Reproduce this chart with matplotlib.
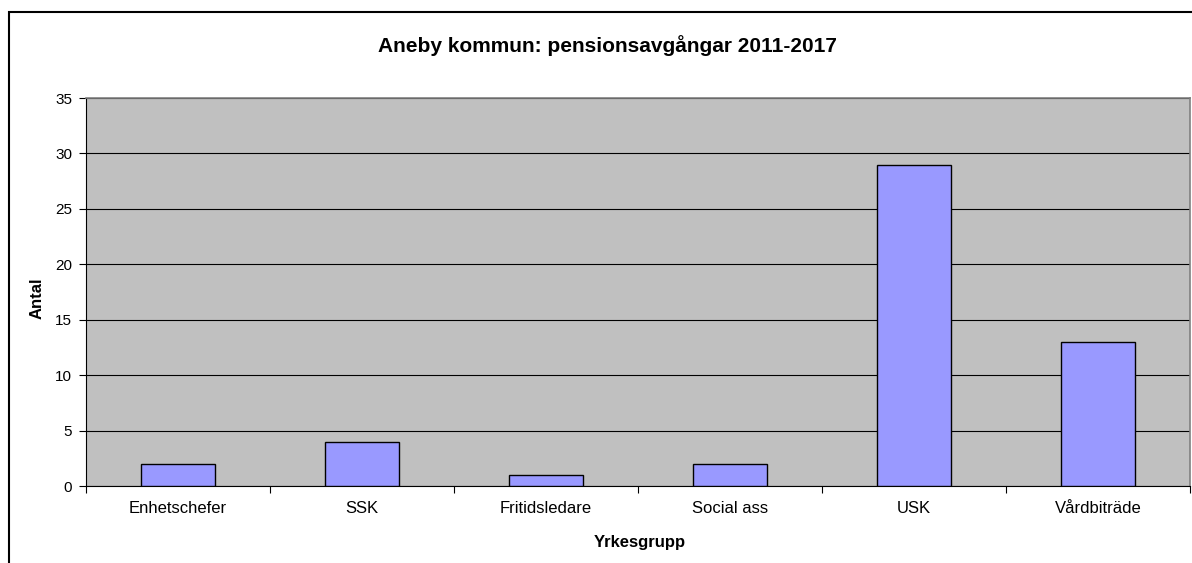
import matplotlib
matplotlib.use("Agg")
import matplotlib.pyplot as plt
from matplotlib.patches import Rectangle
import numpy as np

# ── data
categories = ["Enhetschefer", "SSK", "Fritidsledare", "Social ass", "USK", "Vårdbiträde"]
antal = [2, 4, 1, 2, 29, 13]
yticks = [0, 5, 10, 15, 20, 25, 30, 35]

plt.rcParams['font.family'] = ['Liberation Sans', 'DejaVu Sans']

W, H = 1192, 563
fig = plt.figure(figsize=(W / 100, H / 100), dpi=100)
fig.patch.set_facecolor("white")

# plot area in pixel terms
left, right, top, bottom = 86, 1190, 98, 486
ax = fig.add_axes([left / W, 1 - bottom / H, (right - left) / W, (bottom - top) / H])
ax.set_facecolor("#C0C0C0")

x = np.arange(len(categories))
ax.bar(x, antal, width=0.4, color="#9999FF", edgecolor="black", linewidth=1.0, zorder=3)

ax.set_xlim(-0.5, len(categories) - 0.5)
ax.set_ylim(0, 35)
ax.set_yticks(yticks)
ax.set_yticklabels([str(t) for t in yticks], fontsize=11)
ax.yaxis.grid(True, color="black", linewidth=0.8, zorder=1)
ax.set_axisbelow(True)

# category labels centred, ticks at category boundaries
ax.set_xticks(x)
ax.set_xticklabels(categories, fontsize=12)
ax.tick_params(axis="x", which="major", length=0, pad=11)
ax.set_xticks(np.arange(-0.5, len(categories)), minor=True)
ax.tick_params(axis="x", which="minor", length=5, width=0.8, direction="out")
ax.tick_params(axis="y", length=5, width=0.8, direction="out", pad=5)

for s in ["top", "right"]:
    ax.spines[s].set_color("#808080")
    ax.spines[s].set_linewidth(1.2)
for s in ["left", "bottom"]:
    ax.spines[s].set_color("black")
    ax.spines[s].set_linewidth(0.8)

fig.text(607 / W, 1 - 46 / H, "Aneby kommun: pensionsavgångar 2011-2017",
         ha="center", va="center", fontsize=15, fontweight="bold")
fig.text(37.5 / W, 1 - 298 / H, "Antal", ha="center", va="center", rotation=90,
         fontsize=12, fontweight="bold")
fig.text(640 / W, 1 - 543 / H, "Yrkesgrupp", ha="center", va="center",
         fontsize=12, fontweight="bold")

# chart border (runs off right and bottom edge)
fig.patches.append(Rectangle((9 / W, -0.1), 1.2, 1.1 - 12 / H, transform=fig.transFigure,
                             fill=False, edgecolor="black", linewidth=1.5, clip_on=False))

fig.savefig("out.png", dpi=100)
